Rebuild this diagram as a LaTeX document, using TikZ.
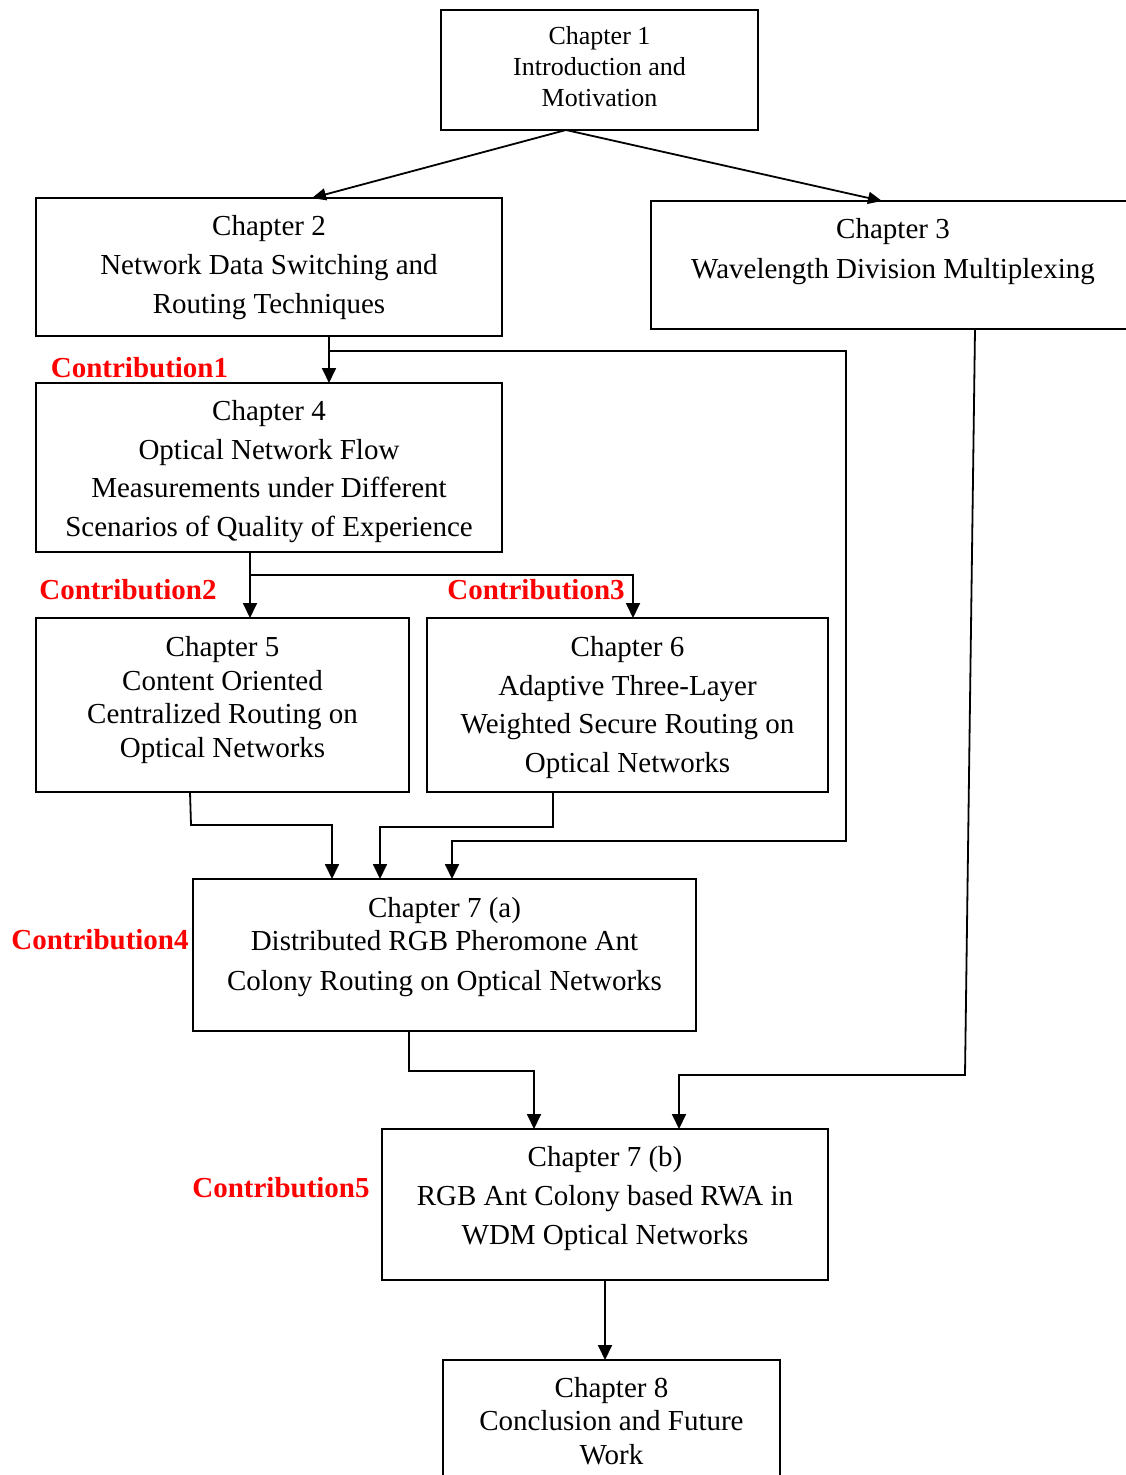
\documentclass[tikz,border=0pt]{standalone}
\usepackage{fontspec}
\setmainfont{Liberation Serif}
\usetikzlibrary{arrows.meta}
\begin{document}
\begin{tikzpicture}[x=1pt,y=-1pt,
  chap/.style={draw, line width=1.9pt, inner sep=0pt, outer sep=0pt, anchor=north west},
  txt/.style={align=center, inner sep=0pt, anchor=north},
  contrib/.style={text=red, inner sep=0pt, font=\fontsize{29}{35}\selectfont\bfseries},
  wire/.style={line width=1.8pt, line join=miter},
  link/.style={wire, -{Triangle[length=15pt,width=14pt]}},
  shortlink/.style={wire, -{Triangle[length=14pt,width=12pt]}}]
\useasboundingbox (0,0) rectangle (1125,1475);

% chapter boxes
\node[chap, minimum width=317pt, minimum height=120pt] (c1) at (441,10) {};
\node[chap, minimum width=466pt, minimum height=138pt] (c2) at (36,198) {};
\node[chap, minimum width=484pt, minimum height=128pt] (c3) at (651,201) {};
\node[chap, minimum width=466pt, minimum height=169pt] (c4) at (36,383) {};
\node[chap, minimum width=373pt, minimum height=174pt] (c5) at (36,618) {};
\node[chap, minimum width=401pt, minimum height=174pt] (c6) at (427,618) {};
\node[chap, minimum width=503pt, minimum height=152pt] (c7a) at (193,879) {};
\node[chap, minimum width=446pt, minimum height=151pt] (c7b) at (382,1129) {};
\node[chap, minimum width=337pt, minimum height=130pt] (c8) at (443,1360) {};

% chapter titles
\node[txt, font=\fontsize{26}{31}\selectfont] (t1) at (599.5,26)
  {Chapter 1\\Introduction and\\Motivation};
\node[txt, font=\fontsize{29}{39}\selectfont] (t2) at (269,215)
  {Chapter 2\\Network Data Switching and\\Routing Techniques};
\node[txt, font=\fontsize{29}{40}\selectfont] (t3) at (893,218)
  {Chapter 3\\Wavelength Division Multiplexing};
\node[txt, font=\fontsize{29}{38.7}\selectfont] (t4) at (269,400)
  {Chapter 4\\Optical Network Flow\\Measurements under Different\\Scenarios of Quality of Experience};
\node[txt, font=\fontsize{29}{33.7}\selectfont] (t5) at (222.5,636)
  {Chapter 5\\Content Oriented\\Centralized Routing on\\Optical Networks};
\node[txt, font=\fontsize{29}{38.7}\selectfont] (t6) at (627.5,636)
  {Chapter 6\\Adaptive Three-Layer\\Weighted Secure Routing on\\Optical Networks};
\node[txt, font=\fontsize{29}{33}\selectfont] (t7a) at (444.5,897)
  {Chapter 7 (a)\\Distributed RGB Pheromone Ant\\[7pt]Colony Routing on Optical Networks};
\node[txt, font=\fontsize{29}{39}\selectfont] (t7b) at (605,1146)
  {Chapter 7 (b)\\RGB Ant Colony based RWA in\\WDM Optical Networks};
\node[txt, font=\fontsize{29}{33.5}\selectfont] (t8) at (611.5,1377)
  {Chapter 8\\Conclusion and Future\\Work};

% contribution labels
\node[contrib] (k1) at (139.5,368) {Contribution1};
\node[contrib] (k2) at (128,590) {Contribution2};
\node[contrib] (k3) at (536,590) {Contribution3};
\node[contrib] (k4) at (100,940) {Contribution4};
\node[contrib] (k5) at (281,1188) {Contribution5};

% branch points
\coordinate (j2) at (329,351);
\coordinate (j4) at (250,575);

% connectors
\draw[shortlink] (566,0 |- c1.south) -- (312,0 |- c2.north);
\draw[shortlink] (566,0 |- c1.south) -- (882,0 |- c3.north);
\draw[link] (329,0 |- c2.south) -- (329,0 |- c4.north);
\draw[link] (j2) -- (846,351) -- (846,841) -- (452,841) -- (452,0 |- c7a.north);
\draw[link] (250,0 |- c4.south) -- (250,0 |- c5.north);
\draw[link] (j4) -- (633,575) -- (633,0 |- c6.north);
\draw[link] (190,0 |- c5.south) -- (191,825) -- (332,825) -- (332,0 |- c7a.north);
\draw[link] (553,0 |- c6.south) -- (553,827) -- (380,827) -- (380,0 |- c7a.north);
\draw[link] (975,0 |- c3.south) -- (965,1075) -- (679,1075) -- (679,0 |- c7b.north);
\draw[link] (409,0 |- c7a.south) -- (409,1071) -- (534,1071) -- (534,0 |- c7b.north);
\draw[link] (605,0 |- c7b.south) -- (605,0 |- c8.north);
\end{tikzpicture}
\end{document}
